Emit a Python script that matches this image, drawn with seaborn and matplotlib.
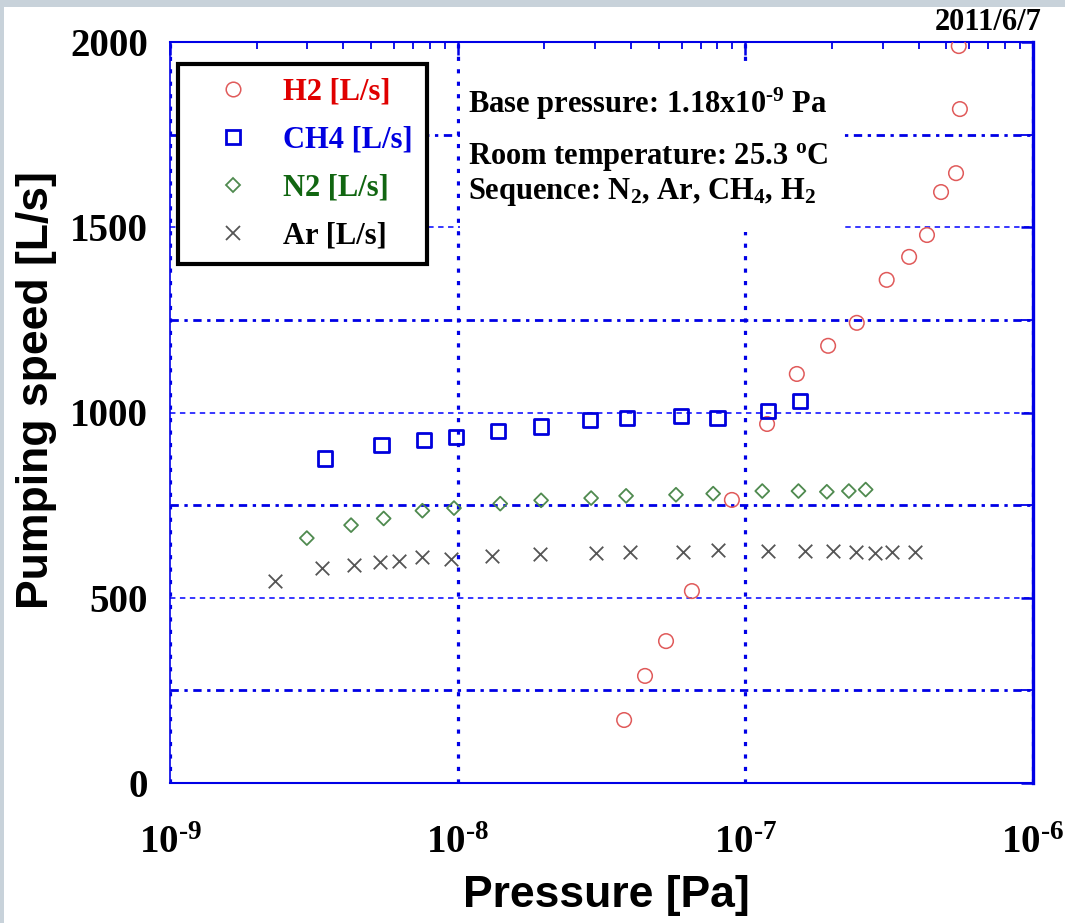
import matplotlib
matplotlib.use("Agg")
import matplotlib.pyplot as plt
import seaborn as sns
import numpy as np
from matplotlib.lines import Line2D
from matplotlib.patches import Rectangle
from matplotlib.ticker import FixedLocator, FixedFormatter, MultipleLocator, LogLocator, NullFormatter

# ---------------- data ----------------
h2_p = [3.79e-8, 4.48e-8, 5.30e-8, 6.52e-8, 8.98e-8, 1.19e-7, 1.51e-7, 1.94e-7,
        2.44e-7, 3.10e-7, 3.71e-7, 4.28e-7, 4.79e-7, 5.40e-7, 5.57e-7, 5.52e-7]
h2_s = [170, 289, 383, 518, 764, 969, 1104, 1180, 1242, 1358, 1420, 1479, 1595, 1646, 1819, 1989]

ch4_p = [3.45e-9, 5.44e-9, 7.62e-9, 9.84e-9, 1.377e-8, 1.944e-8, 2.88e-8, 3.87e-8,
         5.97e-8, 8.01e-8, 1.20e-7, 1.55e-7]
ch4_s = [876, 912, 926, 933, 951, 962, 980, 986, 990, 985, 1004, 1031]

n2_p = [2.99e-9, 4.26e-9, 5.53e-9, 7.54e-9, 9.71e-9, 1.406e-8, 1.95e-8, 2.91e-8,
        3.85e-8, 5.74e-8, 7.73e-8, 1.145e-7, 1.53e-7, 1.92e-7, 2.29e-7, 2.62e-7]
n2_s = [661, 696, 714, 735, 742, 754, 763, 769, 775, 778, 781, 788, 788, 786, 788, 792]

ar_p = [2.32e-9, 3.37e-9, 4.37e-9, 5.38e-9, 6.25e-9, 7.50e-9, 9.46e-9, 1.32e-8, 1.94e-8,
        3.02e-8, 3.97e-8, 6.08e-8, 8.01e-8, 1.20e-7, 1.61e-7, 2.02e-7, 2.42e-7, 2.83e-7,
        3.24e-7, 3.89e-7]
ar_s = [545, 580, 589, 596, 598, 611, 604, 612, 619, 621, 623, 624, 628, 625, 625, 625,
        624, 622, 624, 624]

series_labels = ["H2 [L/s]", "CH4 [L/s]", "N2 [L/s]", "Ar [L/s]"]
x_major = [1e-9, 1e-8, 1e-7, 1e-6]
x_ticklabels = [r"$10^{\text{-9}}$", r"$10^{\text{-8}}$", r"$10^{\text{-7}}$", r"$10^{\text{-6}}$"]
y_major = [0, 500, 1000, 1500, 2000]
y_ticklabels = ["0", "500", "1000", "1500", "2000"]

# ---------------- style ----------------
sns.set_style("white")
plt.rcParams["font.family"] = ["Liberation Serif", "DejaVu Serif"]
plt.rcParams["font.weight"] = "bold"
plt.rcParams["text.color"] = "black"
plt.rcParams["axes.labelcolor"] = "black"
plt.rcParams["xtick.labelcolor"] = "black"
plt.rcParams["ytick.labelcolor"] = "black"
plt.rcParams["mathtext.fontset"] = "custom"
plt.rcParams["mathtext.rm"] = "Liberation Serif:bold"
plt.rcParams["mathtext.it"] = "Liberation Serif:bold"
plt.rcParams["mathtext.bf"] = "Liberation Serif:bold"

BLUE = "#0000e6"
RED = "#e05a5a"
SQBLUE = "#0000dd"
GREEN = "#4f8a4f"
GREY = "#555555"

fig = plt.figure(figsize=(10.65, 9.23), dpi=100, facecolor="white")
ax = fig.add_axes([170 / 1065, 1 - 783 / 923, (1033 - 170) / 1065, (783 - 42) / 923])

# grey frame strips at the top and left edges of the image
fig.patches.append(Rectangle((0, 0), 4 / 1065, 1, transform=fig.transFigure,
                             facecolor="#c8d2da", edgecolor="none", zorder=0))
fig.patches.append(Rectangle((0, 1 - 7 / 923), 1, 7 / 923, transform=fig.transFigure,
                             facecolor="#c8d2da", edgecolor="none", zorder=0))

sns.scatterplot(x=h2_p, y=h2_s, marker="o", s=110, facecolor="none", edgecolor=RED,
                linewidth=1.1, ax=ax, zorder=3)
sns.scatterplot(x=ch4_p, y=ch4_s, marker="s", s=105, facecolor="none", edgecolor=SQBLUE,
                linewidth=2.0, ax=ax, zorder=3)
sns.scatterplot(x=n2_p, y=n2_s, marker="D", s=50, facecolor="none", edgecolor=GREEN,
                linewidth=1.3, ax=ax, zorder=3)
sns.scatterplot(x=ar_p, y=ar_s, marker="x", s=95, color=GREY, linewidth=1.3, ax=ax, zorder=3)

ax.set_xscale("log")
ax.set_xlim(1e-9, 1e-6)
ax.set_ylim(0, 2000)

ax.xaxis.set_major_locator(FixedLocator(x_major))
ax.xaxis.set_major_formatter(FixedFormatter(x_ticklabels))
ax.xaxis.set_minor_locator(LogLocator(base=10, subs=np.arange(2, 10)))
ax.xaxis.set_minor_formatter(NullFormatter())
ax.yaxis.set_major_locator(FixedLocator(y_major))
ax.yaxis.set_major_formatter(FixedFormatter(y_ticklabels))
ax.yaxis.set_minor_locator(MultipleLocator(250))

ax.tick_params(which="both", direction="in", top=True, right=True, colors=BLUE)
ax.tick_params(which="major", length=9, width=1.8)
ax.tick_params(which="minor", length=5, width=1.3)
ax.tick_params(axis="y", which="minor", length=8.6, width=1.3)
ax.tick_params(axis="both", which="major", labelcolor="black", labelsize=28)
ax.tick_params(axis="x", which="major", pad=30)
ax.tick_params(axis="y", which="major", pad=16)
for lab in ax.get_xticklabels() + ax.get_yticklabels():
    lab.set_fontweight("bold")

for side, lw in [("left", 1.2), ("bottom", 1.5), ("top", 1.5), ("right", 2.4)]:
    ax.spines[side].set_visible(True)
    ax.spines[side].set_color(BLUE)
    ax.spines[side].set_linewidth(lw)

ax.set_axisbelow(True)
ax.yaxis.grid(True, which="major", color="#2828ff", lw=1.3, ls=(0, (3, 2.5)))
ax.yaxis.grid(True, which="minor", color=BLUE, lw=2.0, ls=(0, (3, 2, 1.2, 2)))
ax.xaxis.grid(True, which="major", color=BLUE, lw=2.3, ls=(0, (1.3, 2.6)))
ax.xaxis.grid(False, which="minor")

ax.set_xlabel("Pressure [Pa]", fontsize=32, fontweight="bold", color="black",
              family=["Liberation Sans", "DejaVu Sans"])
ax.set_ylabel("Pumping speed [L/s]", fontsize=32, fontweight="bold", color="black",
              family=["Liberation Sans", "DejaVu Sans"])
ax.xaxis.set_label_coords(0.506, -0.1245)
ax.yaxis.set_label_coords(-0.131, 0.530)

# white area behind the annotation text (hides the grid there)
ax.add_patch(Rectangle((290 / 863, 1 - 190 / 741), (842 - 460) / 863, 169 / 741,
                       transform=ax.transAxes, facecolor="white", edgecolor="none", zorder=1))

tfont = dict(fontsize=22, fontweight="bold", color="black", family=["Liberation Serif"])
ax.text(298 / 863, 1 - 62 / 741, r"Base pressure: 1.18x10$^{\text{-9}}$ Pa", transform=ax.transAxes,
        va="center", ha="left", zorder=4, **tfont)
ax.text(298 / 863, 1 - 115 / 741, r"Room temperature: 25.3 $^{\mathrm{o}}$C", transform=ax.transAxes,
        va="center", ha="left", zorder=4, **tfont)
ax.text(298 / 863, 1 - 150 / 741, r"Sequence: N$_2$, Ar, CH$_4$, H$_2$", transform=ax.transAxes,
        va="center", ha="left", zorder=4, **tfont)

fig.text(1042 / 1065, 1 - 22 / 923, "2011/6/7", ha="right", va="center", fontsize=22,
         fontweight="bold", family=["Liberation Serif"], color="black")

# legend
handles = [
    Line2D([], [], ls="none", marker="o", markersize=10.5, markerfacecolor="none",
           markeredgecolor=RED, markeredgewidth=1.1),
    Line2D([], [], ls="none", marker="s", markersize=10, markerfacecolor="none",
           markeredgecolor=SQBLUE, markeredgewidth=2.0),
    Line2D([], [], ls="none", marker="D", markersize=7, markerfacecolor="none",
           markeredgecolor=GREEN, markeredgewidth=1.3),
    Line2D([], [], ls="none", marker="x", markersize=9.7, color=GREY, markeredgewidth=1.3),
]
leg = ax.legend(handles, series_labels, loc="upper left", bbox_to_anchor=(8 / 863, 1 - 22 / 741),
                borderaxespad=0, frameon=True, fancybox=False, framealpha=1, edgecolor="black",
                prop=dict(family="Liberation Serif", weight="bold", size=22),
                handlelength=2.7, handletextpad=0.3, labelspacing=0.62, borderpad=0.45)
leg.get_frame().set_linewidth(3)
for txt, c in zip(leg.get_texts(), ["#e00000", "#0000e0", "#116611", "black"]):
    txt.set_color(c)
leg.set_zorder(5)

fig.savefig("out.png", dpi=100, facecolor="white")
